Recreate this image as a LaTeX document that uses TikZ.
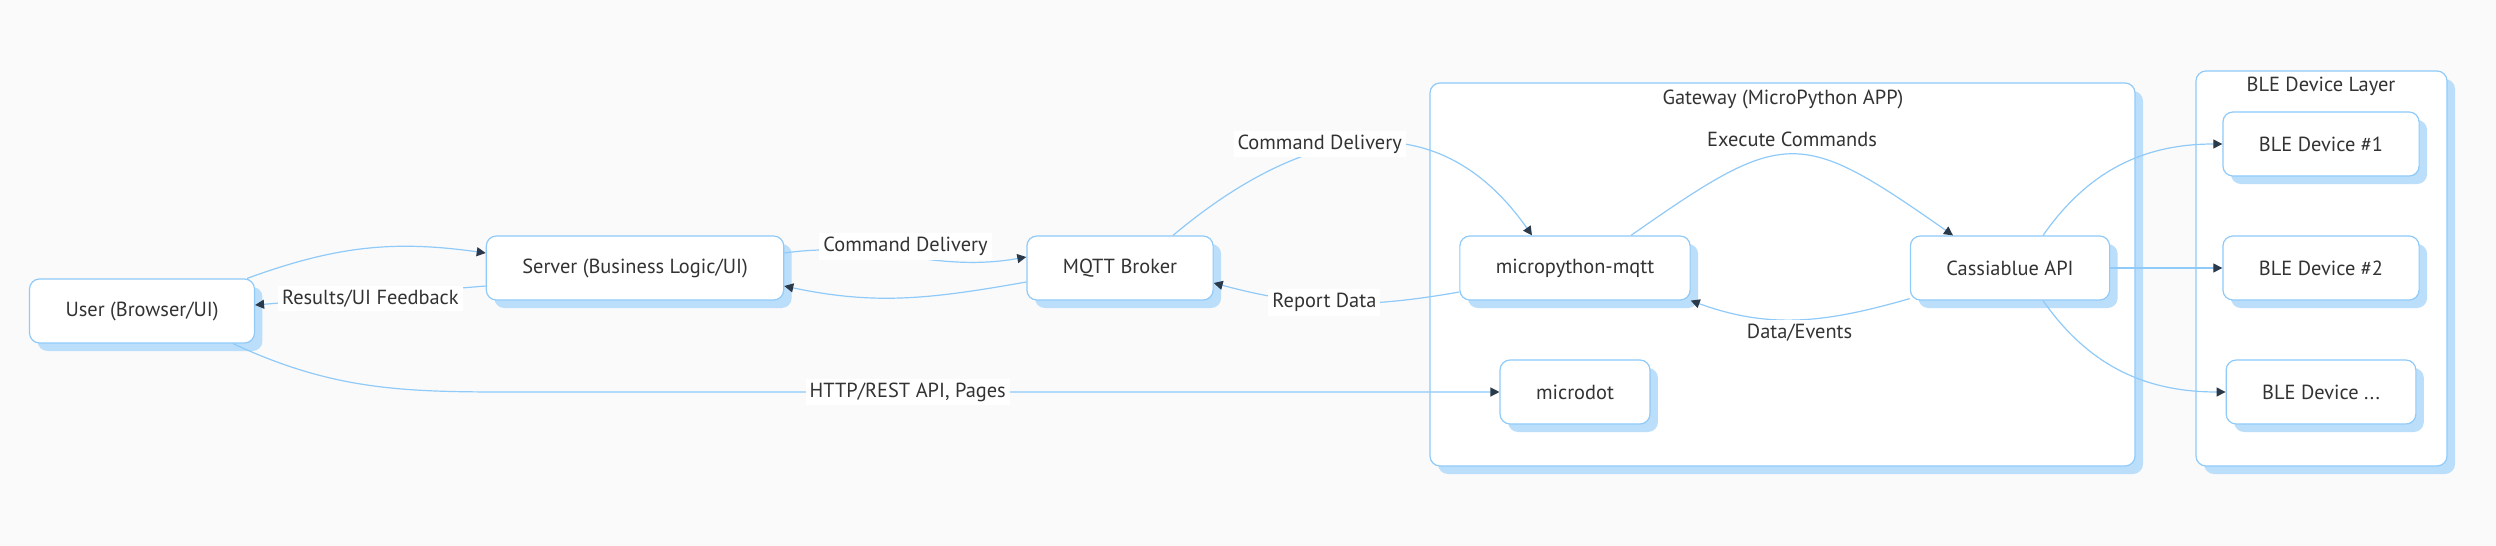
\documentclass[tikz,border=0pt]{standalone}
\usepackage{fontspec}
\setmainfont{PT Sans}
\usetikzlibrary{positioning,arrows.meta,shadows}
\definecolor{edgeblue}{HTML}{90CAF9}
\definecolor{shadeblue}{HTML}{BBDEFB}
\definecolor{pagegray}{HTML}{FAFAFA}
\definecolor{tipdark}{HTML}{2B3A4A}
\definecolor{inkgray}{HTML}{333333}

\begin{document}
\begin{tikzpicture}[-{Triangle[length=4.5pt,width=4.5pt,color=tipdark]}, node distance=62pt and 200pt, on grid,
line width=0.6pt, draw=edgeblue,
box/.style={rectangle, rounded corners=5pt, draw=edgeblue, fill=white, text=inkgray,
  minimum height=32pt, inner xsep=18pt, font=\fontsize{10.2}{12}\selectfont,
  drop shadow={shadow xshift=4pt, shadow yshift=-4pt, fill=shadeblue, opacity=1}},
lbl/.style={fill=white, text=inkgray, inner sep=2pt, font=\fontsize{10.2}{12}\selectfont},
cluster/.style={-, rounded corners=5pt, draw=edgeblue, fill=white,
  drop shadow={shadow xshift=4pt, shadow yshift=-4pt, fill=shadeblue, opacity=1}},
title/.style={text=inkgray, font=\fontsize{10.2}{12}\selectfont}
]
\useasboundingbox[fill=pagegray] (0,0) rectangle (1248pt,-273pt);
% clusters
\path[cluster] (715pt,-41.5pt) rectangle (1067.5pt,-233pt);
\path[cluster] (1098pt,-35.5pt) rectangle (1223.5pt,-233pt);
\node[title] (gwtitle) at (891.5pt,-49.5pt) {Gateway (MicroPython APP)};
\node[title] (bletitle) at (1160.5pt,-43pt) {BLE Device Layer};
% nodes
\node[box] (usr) at (71pt,-155.5pt) {User (Browser/UI)};
\node[box] (srv) [above right = 21.5pt and 246.5pt of usr] {Server (Business Logic/UI)};
\node[box] (mq) [right = 242.5pt of srv] {MQTT Broker};
\node[box] (mql) [right = 227.5pt of mq] {micropython-mqtt};
\node[box] (cas) [right = 217.5pt of mql] {Cassiablue API};
\node[box] (md) [below = 62pt of mql] {microdot};
\node[box] (b2) [right = 155.5pt of cas] {BLE Device \#2};
\node[box] (b1) [above = of b2] {BLE Device \#1};
\node[box] (b3) [below = of b2] {BLE Device ...};
\coordinate (httpbend) at ([xshift=-485pt]md.west);
% edges
\draw ([xshift=-4pt]usr.north east) to[out=20,in=172] ([yshift=7.5pt]srv.west);
\draw ([yshift=-9pt]srv.west) -- node[lbl,yshift=-1.5pt] {Results/UI Feedback} ([yshift=3pt]usr.east);
\draw ([yshift=7.5pt]srv.east) to[out=8,in=190] node[lbl,yshift=5pt] {Command Delivery} ([yshift=5.5pt]mq.west);
\draw ([yshift=-7pt]mq.west) to[out=190,in=-12] ([yshift=-9pt]srv.east);
\draw ([xshift=26.5pt]mq.north) to[out=40,in=125,looseness=1.2] node[lbl,pos=0.38,yshift=3.5pt] {Command Delivery} ([xshift=-21.5pt]mql.north);
\draw ([xshift=28pt]mql.north) to[out=35,in=145,looseness=1.5] node[title,above=0pt] {Execute Commands} ([xshift=-28.5pt]cas.north);
\draw ([yshift=1pt]cas.south west) to[out=196,in=-20] node[lbl,yshift=-6.5pt] {Data/Events} (mql.south east);
\draw ([yshift=-12pt]mql.west) to[out=190,in=-15] node[lbl,pos=0.55] {Report Data} ([yshift=-7.5pt]mq.east);
\draw ([xshift=45.5pt]usr.south) to[out=-25,in=180] (httpbend) -- node[lbl,pos=0.39] {HTTP/REST API, Pages} (md.west);
\draw ([xshift=16.5pt]cas.north) to[out=55,in=180] (b1.west);
\draw (cas.east) -- (b2.west);
\draw ([xshift=16.5pt]cas.south) to[out=-55,in=180] (b3.west);
\end{tikzpicture}
\end{document}
